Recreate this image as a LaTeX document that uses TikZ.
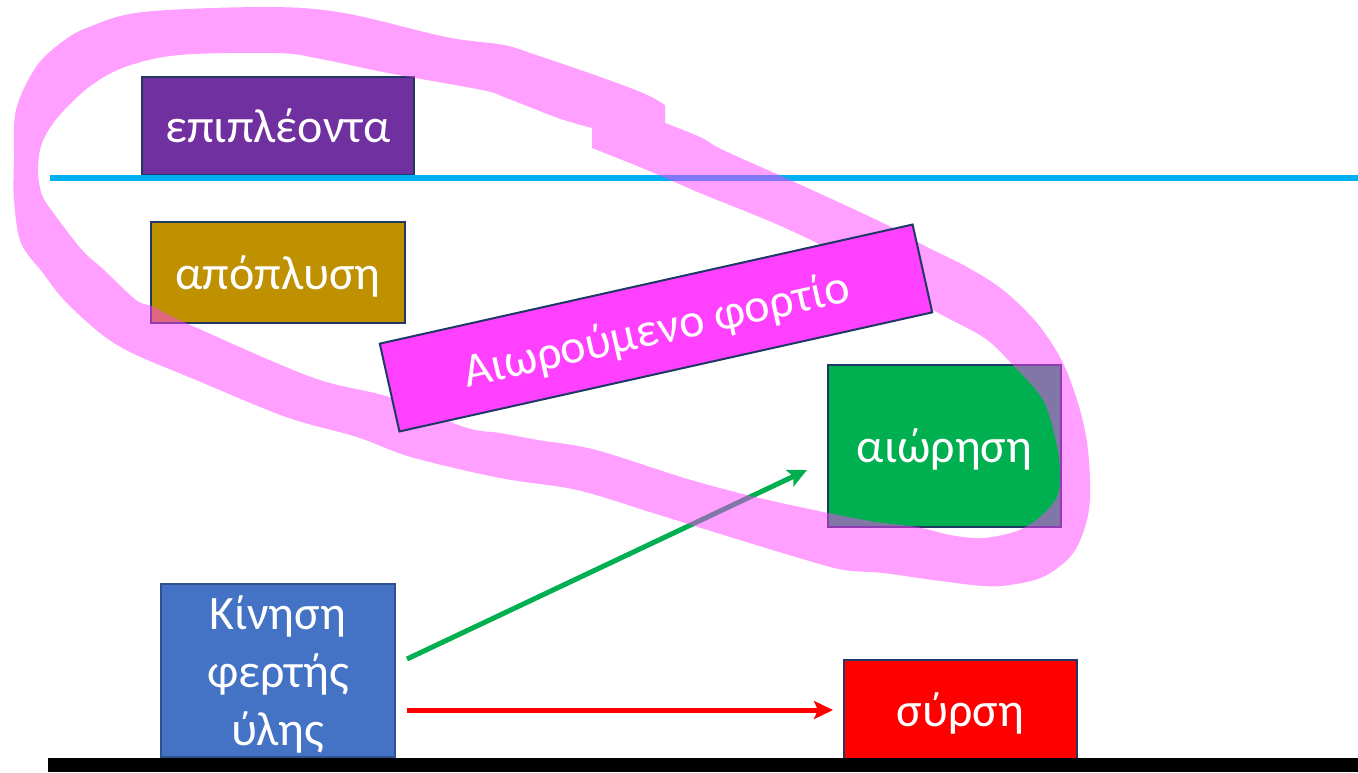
\documentclass[tikz,border=0pt]{standalone}
\usepackage{fontspec}
\setmainfont{Carlito}
\usetikzlibrary{arrows.meta,calc}

\definecolor{cPurple}{HTML}{7030A0}
\definecolor{cGold}{HTML}{BF9000}
\definecolor{cMagenta}{HTML}{FF40FF}
\definecolor{cGreen}{HTML}{00B050}
\definecolor{cBlue}{HTML}{4472C4}
\definecolor{cBlueEdge}{HTML}{2F528F}
\definecolor{cRed}{HTML}{FF0000}
\definecolor{cEdge}{HTML}{203864}
\definecolor{cCyan}{HTML}{00B0F0}

% fixed line metrics so every label sits like a slide text box
\newcommand\tstrut{\rule[-0.25em]{0pt}{1.2em}}

\begin{document}
\begin{tikzpicture}[x=1pt,y=-1pt,
  tbox/.style={draw=cEdge, line width=2pt, inner sep=0pt, text=white,
    font=\fontsize{48}{58}\selectfont, align=center},
  flow/.style={line width=5pt, -{Stealth[length=19pt,width=18pt,inset=4pt]}},
  inkloop/.style={fill=cMagenta, fill opacity=0.5, even odd rule},
]
\useasboundingbox (0,0) rectangle (1358,772);

% boxes
\node[tbox, fill=cPurple, minimum width=272pt, minimum height=98pt] (epi) at (278,126) {επιπλέοντα\tstrut};
\node[tbox, fill=cGold, minimum width=254pt, minimum height=101pt] (apo) at (278,272.5) {απόπλυση\tstrut};
\node[tbox, fill=cGreen, minimum width=233pt, minimum height=162pt] (aio) at (944.5,446) {αιώρηση\tstrut};
\node[tbox, fill=cBlue, draw=cBlueEdge, minimum width=234pt, minimum height=173pt] (kin) at (278,670.5)
  {Κίνηση\tstrut\\φερτής\tstrut\\ύλης\tstrut};
\node[tbox, fill=cRed, minimum width=233pt, minimum height=99pt] (syr) at (960.5,709.5) {σύρση\tstrut};

% water surface and bed
\coordinate (surfL) at (50,178);
\coordinate (surfR) at (1358,178);
\draw[cCyan, line width=5.5pt] (surfL) -- (surfR);
\coordinate (bedL) at (48,765);
\coordinate (bedR) at (1358,765);
\draw[black, line width=14pt] (bedL) -- (bedR);

% transport paths
\coordinate (gA) at (407,659);
\coordinate (gB) at (807,470);
\draw[flow, cGreen] (gA) -- (gB);
\coordinate (rA) at (407,710);
\coordinate (rB) at (833,710);
\draw[flow, cRed] (rA) -- (rB);

% hand-drawn highlight loop
\fill[inkloop]
  plot[smooth, tension=0.55] coordinates {
    (665,123) (700,137) (723,150) (790,180) (883,223) (923,245) (967,267)
    (1003,290) (1037,323) (1063,363) (1080,410) (1088,450) (1090,500)
    (1083,533) (1070,557) (1043,577) (1010,585) (983,586) (933,580)
    (883,573) (844,570) (806,560) (730,537) (653,513) (577,490) (500,478)
    (411,457) (357,437) (286,417) (196,380) (132,353) (100,333) (64,300)
    (43,273) (21,243) (14,200) (14,160) (16,110) (36,67) (62,42) (89,27)
    (143,12) (268,7) (344,13) (446,37) (504,45) (536,55) (589,73) (643,93)
    (665,105)} -- cycle
  plot[smooth, tension=0.55] coordinates {
    (592,148) (647,170) (700,193) (783,227) (860,265) (933,310) (983,337)
    (1010,362) (1043,400) (1057,446) (1060,475) (1057,497) (1040,517)
    (1017,531) (983,538) (950,535) (917,527) (864,520) (768,500) (691,480)
    (596,450) (538,440) (500,433) (464,427) (389,397) (311,377) (186,323)
    (154,307) (136,300) (104,270) (82,250) (55,215) (42,195) (38,170)
    (42,143) (58,117) (89,87) (125,67) (179,55) (277,53) (321,59) (388,73)
    (482,90) (504,97) (558,118) (592,128)} -- cycle;

% tilted label over the loop
\node[tbox, fill=cMagenta, minimum width=546pt, minimum height=90pt, rotate=12.6] (mag) at (656,328)
  {Αιωρούμενο φορτίο\tstrut};
\end{tikzpicture}
\end{document}
